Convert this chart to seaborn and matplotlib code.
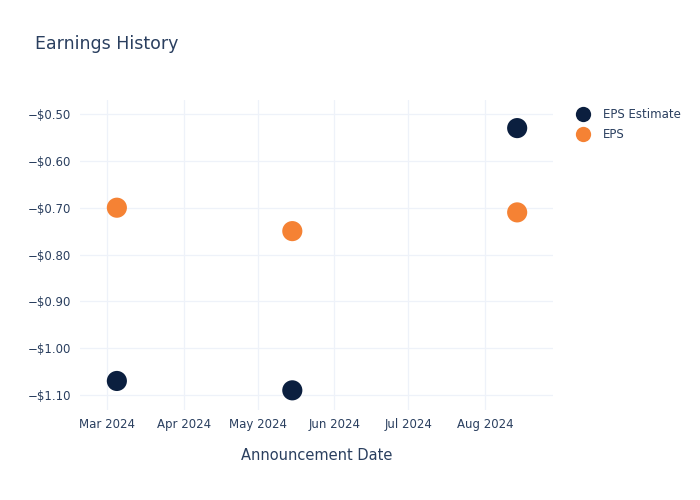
import matplotlib
matplotlib.use("Agg")
import matplotlib.pyplot as plt
import matplotlib.dates as mdates
from matplotlib.ticker import FuncFormatter, MultipleLocator
from matplotlib.lines import Line2D
import seaborn as sns
import pandas as pd

dates = ["2024-03-05", "2024-05-15", "2024-08-14"]
eps_estimate = [-1.07, -1.09, -0.53]
eps_actual = [-0.70, -0.75, -0.71]
series_names = ["EPS Estimate", "EPS"]
colors = ["#0b1f3f", "#f58234"]

df = pd.concat([
    pd.DataFrame({"date": pd.to_datetime(dates), "value": eps_estimate, "series": series_names[0]}),
    pd.DataFrame({"date": pd.to_datetime(dates), "value": eps_actual, "series": series_names[1]}),
])

sns.set_theme(style="white")
plt.rcParams['font.family'] = ['DejaVu Sans']
text_color = "#2a3f5f"

fig = plt.figure(figsize=(7, 5), dpi=100)
ax = fig.add_axes([0.114, 0.18, 0.676, 0.62])
sns.scatterplot(data=df, x="date", y="value", hue="series", palette=colors,
                hue_order=series_names, s=210, edgecolor="none", ax=ax, legend=False, zorder=3)

ax.set_xlim(pd.Timestamp("2024-02-19"), pd.Timestamp("2024-08-28 12:00"))
ax.set_ylim(-1.132, -0.47)
ax.yaxis.set_major_locator(MultipleLocator(0.1))
ax.yaxis.set_major_formatter(FuncFormatter(lambda v, p: ("\u2212" if v < 0 else "") + f"${abs(v):.2f}"))
ax.xaxis.set_major_locator(mdates.MonthLocator())
ax.xaxis.set_major_formatter(mdates.DateFormatter("%b %Y"))

ax.grid(True, color="#eef2f9", linewidth=0.9)
ax.set_axisbelow(True)
for s in ax.spines.values():
    s.set_visible(False)
ax.tick_params(axis="both", length=0, colors=text_color, labelsize=8.5, pad=6)
ax.set_xlabel("Announcement Date", color=text_color, fontsize=10.5, labelpad=12)
ax.set_ylabel("")
fig.text(0.05, 0.912, "Earnings History", color=text_color, fontsize=12.5, va="center")

handles = [Line2D([], [], marker="o", linestyle="none", markersize=11, color=c, markeredgewidth=0) for c in colors]
leg = fig.legend(handles, series_names, loc="upper left", bbox_to_anchor=(0.816, 0.793),
                 frameon=False, fontsize=8.5, handletextpad=1.1, labelspacing=0.58,
                 handlelength=1.2, borderaxespad=0)
for t in leg.get_texts():
    t.set_color(text_color)

fig.savefig("out.png", dpi=100)
